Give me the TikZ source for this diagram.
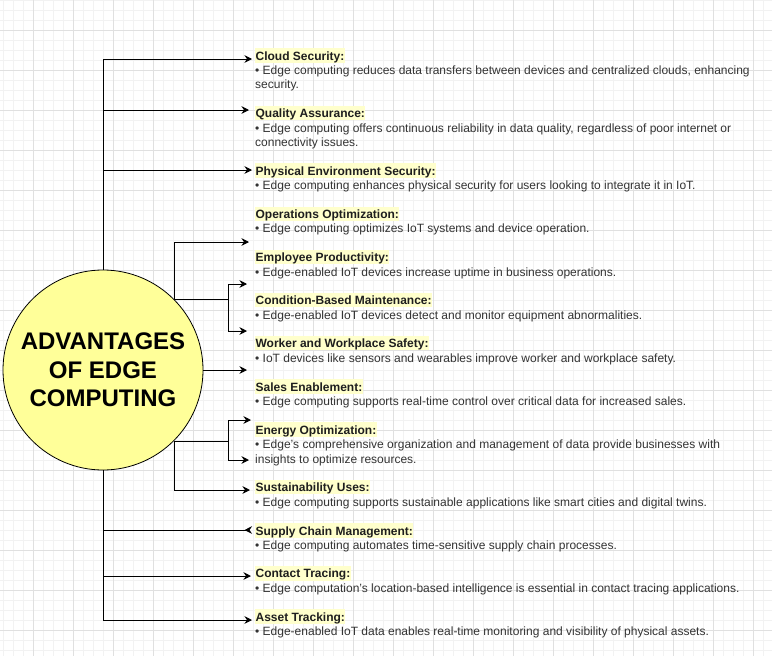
\documentclass[tikz,border=0pt]{standalone}
\usepackage{fontspec}
\setmainfont{Liberation Sans}
\usetikzlibrary{arrows.meta}
\definecolor{gridminor}{HTML}{F2F2F2}
\definecolor{gridmajor}{HTML}{E0E0E0}
\definecolor{hl}{HTML}{FFFFCC}
\definecolor{circfill}{HTML}{FFFF99}
\definecolor{txt}{HTML}{333333}
\definecolor{ttl}{HTML}{1E1E1E}
\begin{document}
\begin{tikzpicture}[x=1pt,y=-1pt,
  ttlbox/.style={anchor=base west, font=\bfseries\fontsize{12}{14.4}\selectfont, fill=hl, text=ttl,
    inner xsep=0.4pt, inner ysep=0pt, text height=11.8pt, text depth=2.6pt},
  bodytxt/.style={anchor=base west, font=\fontsize{12}{14.4}\selectfont, text=txt, inner sep=0pt},
  arr/.style={-{Stealth[length=7.5pt,width=7.5pt,inset=2.5pt]}, line width=0.9pt, black},
  rarr/.style={-{Stealth[length=7.5pt,width=7.5pt,inset=2.5pt,reversed]}, line width=0.9pt, black},
  plain/.style={line width=0.9pt, black}]
\useasboundingbox (0,0) rectangle (772,656);
\fill[white] (0,0) rectangle (772,656);
% grid
\foreach \i in {0,...,76} \draw[gridminor, line width=0.8pt] ({3.3+10*\i},0) -- ({3.3+10*\i},656);
\foreach \i in {0,...,65} \draw[gridminor, line width=0.8pt] (0,{0.7+10*\i}) -- (772,{0.7+10*\i});
\foreach \i in {0,...,18} \draw[gridmajor, line width=0.8pt] ({33.3+40*\i},0) -- ({33.3+40*\i},656);
\foreach \i in {0,...,15} \draw[gridmajor, line width=0.8pt] (0,{30.7+40*\i}) -- (772,{30.7+40*\i});

% central circle
\node[circle, draw=black, fill=circfill, minimum size=200pt, inner sep=0pt, line width=0.8pt] (c) at (103,370) {};
\node[font=\bfseries\fontsize{24}{28.5}\selectfont, align=center, text=black, inner sep=0pt] (ct) at (103,370) {ADVANTAGES\\OF EDGE\\COMPUTING};

% arrow ends
\coordinate (a1) at (252,59);
\coordinate (a2) at (249,110);
\coordinate (a3) at (252,170);
\coordinate (a4) at (249,242);
\coordinate (a5) at (247,284);
\coordinate (a6) at (247,331);
\coordinate (a7) at (247,370);
\coordinate (a8) at (251,420);
\coordinate (a9) at (249,460);
\coordinate (a10) at (250,490);
\coordinate (a11) at (252,530);
\coordinate (a12) at (251,576);
\coordinate (a13) at (252,620);

% connectors
\draw[arr] (c.north) |- (a1);
\draw[arr] (c.north) |- (a2);
\draw[arr] (c.north) |- (a3);
\draw[arr] (c.north east) |- (a4);
\draw[plain] (c.north east) -- ++(54,0) coordinate (f1);
\draw[arr] (f1) |- (a5);
\draw[arr] (f1) |- (a6);
\draw[arr] (c.east) -- (a7);
\draw[plain] (c.south east) -- ++(54,0) coordinate (f2);
\draw[arr] (f2) |- (a8);
\draw[arr] (f2) |- (a9);
\draw[arr] (c.south east) |- (a10);
\draw[rarr] (c.south) |- (a11);
\draw[arr] (c.south) |- (a12);
\draw[arr] (c.south) |- (a13);

% texts
\node[ttlbox] (t1) at (255,60) {Cloud Security:};
\node[bodytxt] (b1) at (255,74.4) {• Edge computing reduces data transfers between devices and centralized clouds, enhancing};
\node[bodytxt] (b1x) at (255,88.8) {security.};

\node[ttlbox] (t2) at (255,117.6) {Quality Assurance:};
\node[bodytxt] (b2) at (255,132) {• Edge computing offers continuous reliability in data quality, regardless of poor internet or};
\node[bodytxt] (b2x) at (255,146.4) {connectivity issues.};

\node[ttlbox] (t3) at (255,175) {Physical Environment Security:};
\node[bodytxt] (b3) at (255,189.4) {• Edge computing enhances physical security for users looking to integrate it in IoT.};

\node[ttlbox] (t4) at (255,218.3) {Operations Optimization:};
\node[bodytxt] (b4) at (255,232.7) {• Edge computing optimizes IoT systems and device operation.};

\node[ttlbox] (t5) at (255,261.7) {Employee Productivity:};
\node[bodytxt] (b5) at (255,276.1) {• Edge-enabled IoT devices increase uptime in business operations.};

\node[ttlbox] (t6) at (255,304.6) {Condition-Based Maintenance:};
\node[bodytxt] (b6) at (255,319) {• Edge-enabled IoT devices detect and monitor equipment abnormalities.};

\node[ttlbox] (t7) at (255,347.7) {Worker and Workplace Safety:};
\node[bodytxt] (b7) at (255,362.1) {• IoT devices like sensors and wearables improve worker and workplace safety.};

\node[ttlbox] (t8) at (255,391) {Sales Enablement:};
\node[bodytxt] (b8) at (255,405.4) {• Edge computing supports real-time control over critical data for increased sales.};

\node[ttlbox] (t9) at (255,434.2) {Energy Optimization:};
\node[bodytxt] (b9) at (255,448.6) {• Edge’s comprehensive organization and management of data provide businesses with};
\node[bodytxt] (b9x) at (255,463) {insights to optimize resources.};

\node[ttlbox] (t10) at (255,491.7) {Sustainability Uses:};
\node[bodytxt] (b10) at (255,506.1) {• Edge computing supports sustainable applications like smart cities and digital twins.};

\node[ttlbox] (t11) at (255,535) {Supply Chain Management:};
\node[bodytxt] (b11) at (255,549.4) {• Edge computing automates time-sensitive supply chain processes.};

\node[ttlbox] (t12) at (255,577.9) {Contact Tracing:};
\node[bodytxt] (b12) at (255,592.3) {• Edge computation's location-based intelligence is essential in contact tracing applications.};

\node[ttlbox] (t13) at (255,621) {Asset Tracking:};
\node[bodytxt] (b13) at (255,635.4) {• Edge-enabled IoT data enables real-time monitoring and visibility of physical assets.};
\end{tikzpicture}
\end{document}
